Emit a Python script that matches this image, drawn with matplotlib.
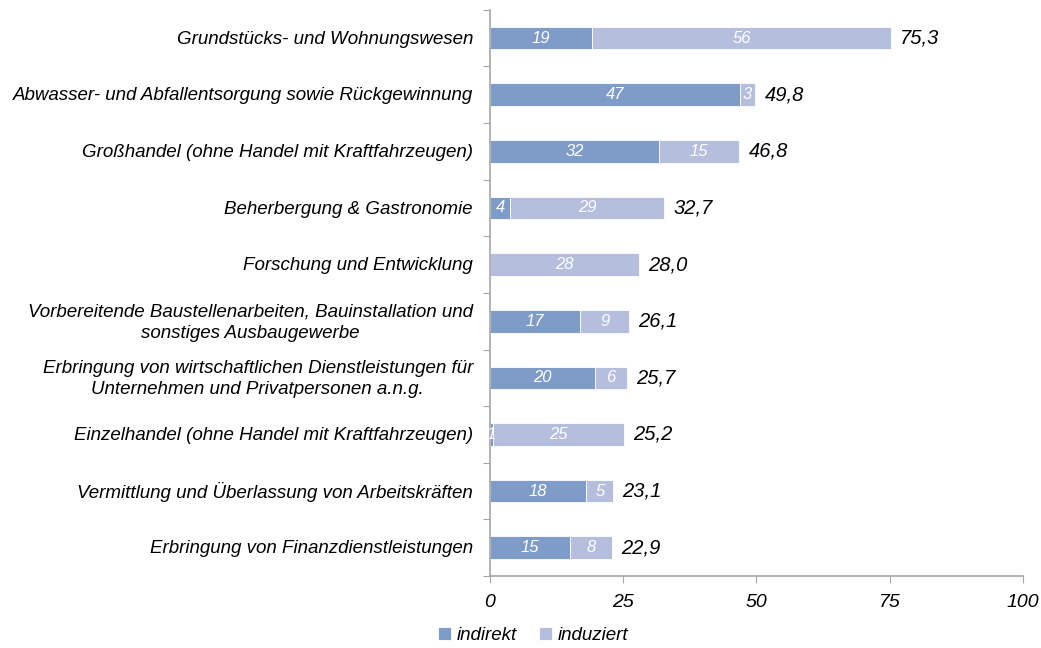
import matplotlib
matplotlib.use("Agg")
import matplotlib.pyplot as plt
import matplotlib.transforms as mtransforms
import numpy as np

plt.rcParams['font.family'] = ['Liberation Sans', 'DejaVu Sans']
plt.rcParams['font.style'] = 'italic'

categories = [
    "Grundstücks- und Wohnungswesen",
    "Abwasser- und Abfallentsorgung sowie Rückgewinnung",
    "Großhandel (ohne Handel mit Kraftfahrzeugen)",
    "Beherbergung & Gastronomie",
    "Forschung und Entwicklung",
    "Vorbereitende Baustellenarbeiten, Bauinstallation und\nsonstiges Ausbaugewerbe",
    "Erbringung von wirtschaftlichen Dienstleistungen für\nUnternehmen und Privatpersonen a.n.g.",
    "Einzelhandel (ohne Handel mit Kraftfahrzeugen)",
    "Vermittlung und Überlassung von Arbeitskräften",
    "Erbringung von Finanzdienstleistungen",
]
indirekt = [19.2, 46.9, 31.7, 3.8, 0.0, 16.9, 19.7, 0.6, 18.1, 15.1]
induziert = [56.1, 2.9, 15.1, 28.9, 28.0, 9.2, 6.0, 24.6, 5.0, 7.8]
totals = [75.3, 49.8, 46.8, 32.7, 28.0, 26.1, 25.7, 25.2, 23.1, 22.9]

c_ind = "#7f9cc8"
c_indu = "#b5bfdd"
grey = "#a6a6a6"

fig = plt.figure(figsize=(10.41, 6.48), dpi=100)
ax = fig.add_axes([0.4707, 0.111, 0.512, 0.874])

y = np.arange(len(categories))
h = 0.40
b1 = ax.barh(y, indirekt, height=h, color=c_ind, edgecolor="white", linewidth=0.6, label="indirekt")
b2 = ax.barh(y, induziert, left=indirekt, height=h, color=c_indu, edgecolor="white", linewidth=0.6, label="induziert")

for i in range(len(categories)):
    if indirekt[i] > 0:
        ax.text(indirekt[i] / 2, y[i], f"{round(indirekt[i])}", ha="center", va="center",
                color="white", fontsize=12)
    ax.text(indirekt[i] + induziert[i] / 2, y[i], f"{round(induziert[i])}", ha="center", va="center",
            color="white", fontsize=12)
    ax.text(totals[i] + 1.7, y[i], f"{totals[i]:.1f}".replace(".", ","), ha="left", va="center",
            color="black", fontsize=14.5)

# category labels as text so multi-line labels can be centred
trans = mtransforms.blended_transform_factory(ax.transAxes, ax.transData)
trans = trans + mtransforms.ScaledTranslation(-17 / 100, 0, fig.dpi_scale_trans)
for i, cat in enumerate(categories):
    ax.text(0, y[i] + 0.02, cat, transform=trans, ha="right", va="center", multialignment="center",
            linespacing=1.35, fontsize=13.5)

ax.set_xlim(0, 100)
ax.set_ylim(len(categories) - 0.5, -0.5)
ax.set_xticks([0, 25, 50, 75, 100])
ax.tick_params(axis="x", colors=grey, length=5, labelsize=14, labelcolor="black", pad=8)
ax.set_yticks(np.arange(-0.5, len(categories), 1))
ax.set_yticklabels([])
ax.tick_params(axis="y", length=5, colors=grey)

for s in ["top", "right"]:
    ax.spines[s].set_visible(False)
for s in ["left", "bottom"]:
    ax.spines[s].set_color(grey)
    ax.spines[s].set_linewidth(1.2)

fig.legend(handles=[b1, b2], loc="center", bbox_to_anchor=(0.512, 0.019), ncol=2, frameon=False,
           fontsize=13.5, handlelength=0.7, handleheight=0.7, handletextpad=0.3, columnspacing=1.2)

fig.savefig("out.png", dpi=100)
